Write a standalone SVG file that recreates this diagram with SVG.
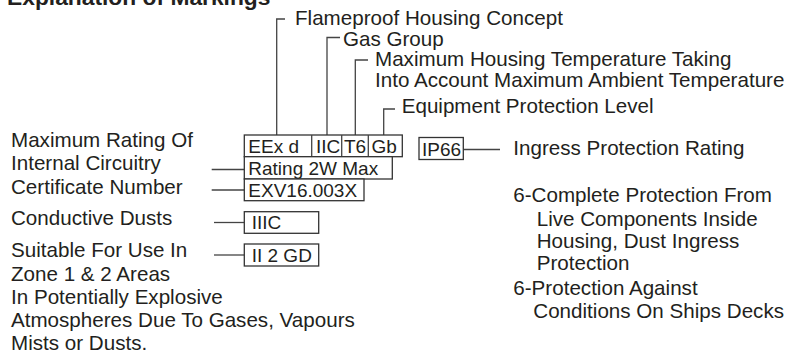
<svg xmlns="http://www.w3.org/2000/svg" width="792" height="353" viewBox="0 0 792 353">
<style>
text{font-family:"Liberation Sans",Arial,sans-serif;fill:#231f20;}
.t{font-size:20.6px;}
.b{font-size:19px;}
.h{font-size:22.8px;font-weight:bold;}
.box{fill:#fff;stroke:#333;stroke-width:1.3;}
.ln{fill:none;stroke:#444;stroke-width:1.3;}
</style>
<rect width="792" height="353" fill="#fff"/>
<text class="h" x="7" y="4.5">Explanation of Markings</text>

<g id="connectors">
<path class="ln" d="M285,19 H276.7 V135"/>
<path class="ln" d="M340,37.5 H327 V135"/>
<path class="ln" d="M368,60 H355.3 V135"/>
<path class="ln" d="M395,109 H383.7 V135"/>
<path class="ln" d="M211.7,169.5 H244.3"/>
<path class="ln" d="M211.7,190 H244.3"/>
<path class="ln" d="M214,222.5 H244.3"/>
<path class="ln" d="M214,255 H244.3"/>
<path class="ln" d="M463.3,149.5 H500"/>
</g>

<g id="marking-top">
<rect class="box" x="244.3" y="135" width="158" height="21.7"/>
<path class="ln" d="M311.7,135 V156.7 M341.7,135 V156.7 M368.3,135 V156.7"/>
<text class="b" x="248.3" y="153.3">EEx d</text>
<text class="b" x="316" y="153.3">IIC</text>
<text class="b" x="344" y="153.3">T6</text>
<text class="b" x="371.5" y="153.3">Gb</text>
</g>
<g id="rating-box">
<rect class="box" x="244.3" y="156.7" width="148" height="22.3"/>
<text class="b" x="248.3" y="175">Rating 2W Max</text>
</g>
<g id="cert-box">
<rect class="box" x="244.3" y="179" width="119.7" height="21.7"/>
<text class="b" x="248.3" y="196.7">EXV16.003X</text>
</g>
<g id="dust-box">
<rect class="box" x="244.3" y="211.7" width="74.4" height="21.6"/>
<text class="b" x="251.7" y="229.3">IIIC</text>
</g>
<g id="zone-box">
<rect class="box" x="244.3" y="244" width="74.4" height="22"/>
<text class="b" x="251.7" y="261.7">II 2 GD</text>
</g>
<g id="ip-box">
<rect class="box" x="419" y="137.5" width="44.3" height="22"/>
<text class="b" x="422" y="155.5">IP66</text>
</g>

<g id="label-flameproof"><text class="t" x="295" y="25">Flameproof Housing Concept</text></g>
<g id="label-gas"><text class="t" x="343" y="45.5">Gas Group</text></g>
<g id="label-temp">
<text class="t" x="375" y="65.5">Maximum Housing Temperature Taking</text>
<text class="t" x="375" y="87">Into Account Maximum Ambient Temperature</text>
</g>
<g id="label-epl"><text class="t" x="401.7" y="113">Equipment Protection Level</text></g>

<g id="label-rating">
<text class="t" x="11" y="147">Maximum Rating Of</text>
<text class="t" x="11" y="169.5">Internal Circuitry</text>
</g>
<g id="label-cert"><text class="t" x="11" y="193.5">Certificate Number</text></g>
<g id="label-dust"><text class="t" x="11" y="225">Conductive Dusts</text></g>
<g id="label-zone">
<text class="t" x="11" y="257.3">Suitable For Use In</text>
<text class="t" x="11" y="280.7">Zone 1 &amp; 2 Areas</text>
<text class="t" x="11" y="304">In Potentially Explosive</text>
<text class="t" x="11" y="327.3">Atmospheres Due To Gases, Vapours</text>
<text class="t" x="11" y="349.5">Mists or Dusts.</text>
</g>

<g id="label-ip">
<text class="t" x="513.3" y="154.5">Ingress Protection Rating</text>
<text class="t" x="513.3" y="201.7">6-Complete Protection From</text>
<text class="t" x="536.7" y="226">Live Components Inside</text>
<text class="t" x="536.7" y="248.3">Housing, Dust Ingress</text>
<text class="t" x="536.7" y="270">Protection</text>
<text class="t" x="513.3" y="295">6-Protection Against</text>
<text class="t" x="533.3" y="318.3">Conditions On Ships Decks</text>
</g>
</svg>
